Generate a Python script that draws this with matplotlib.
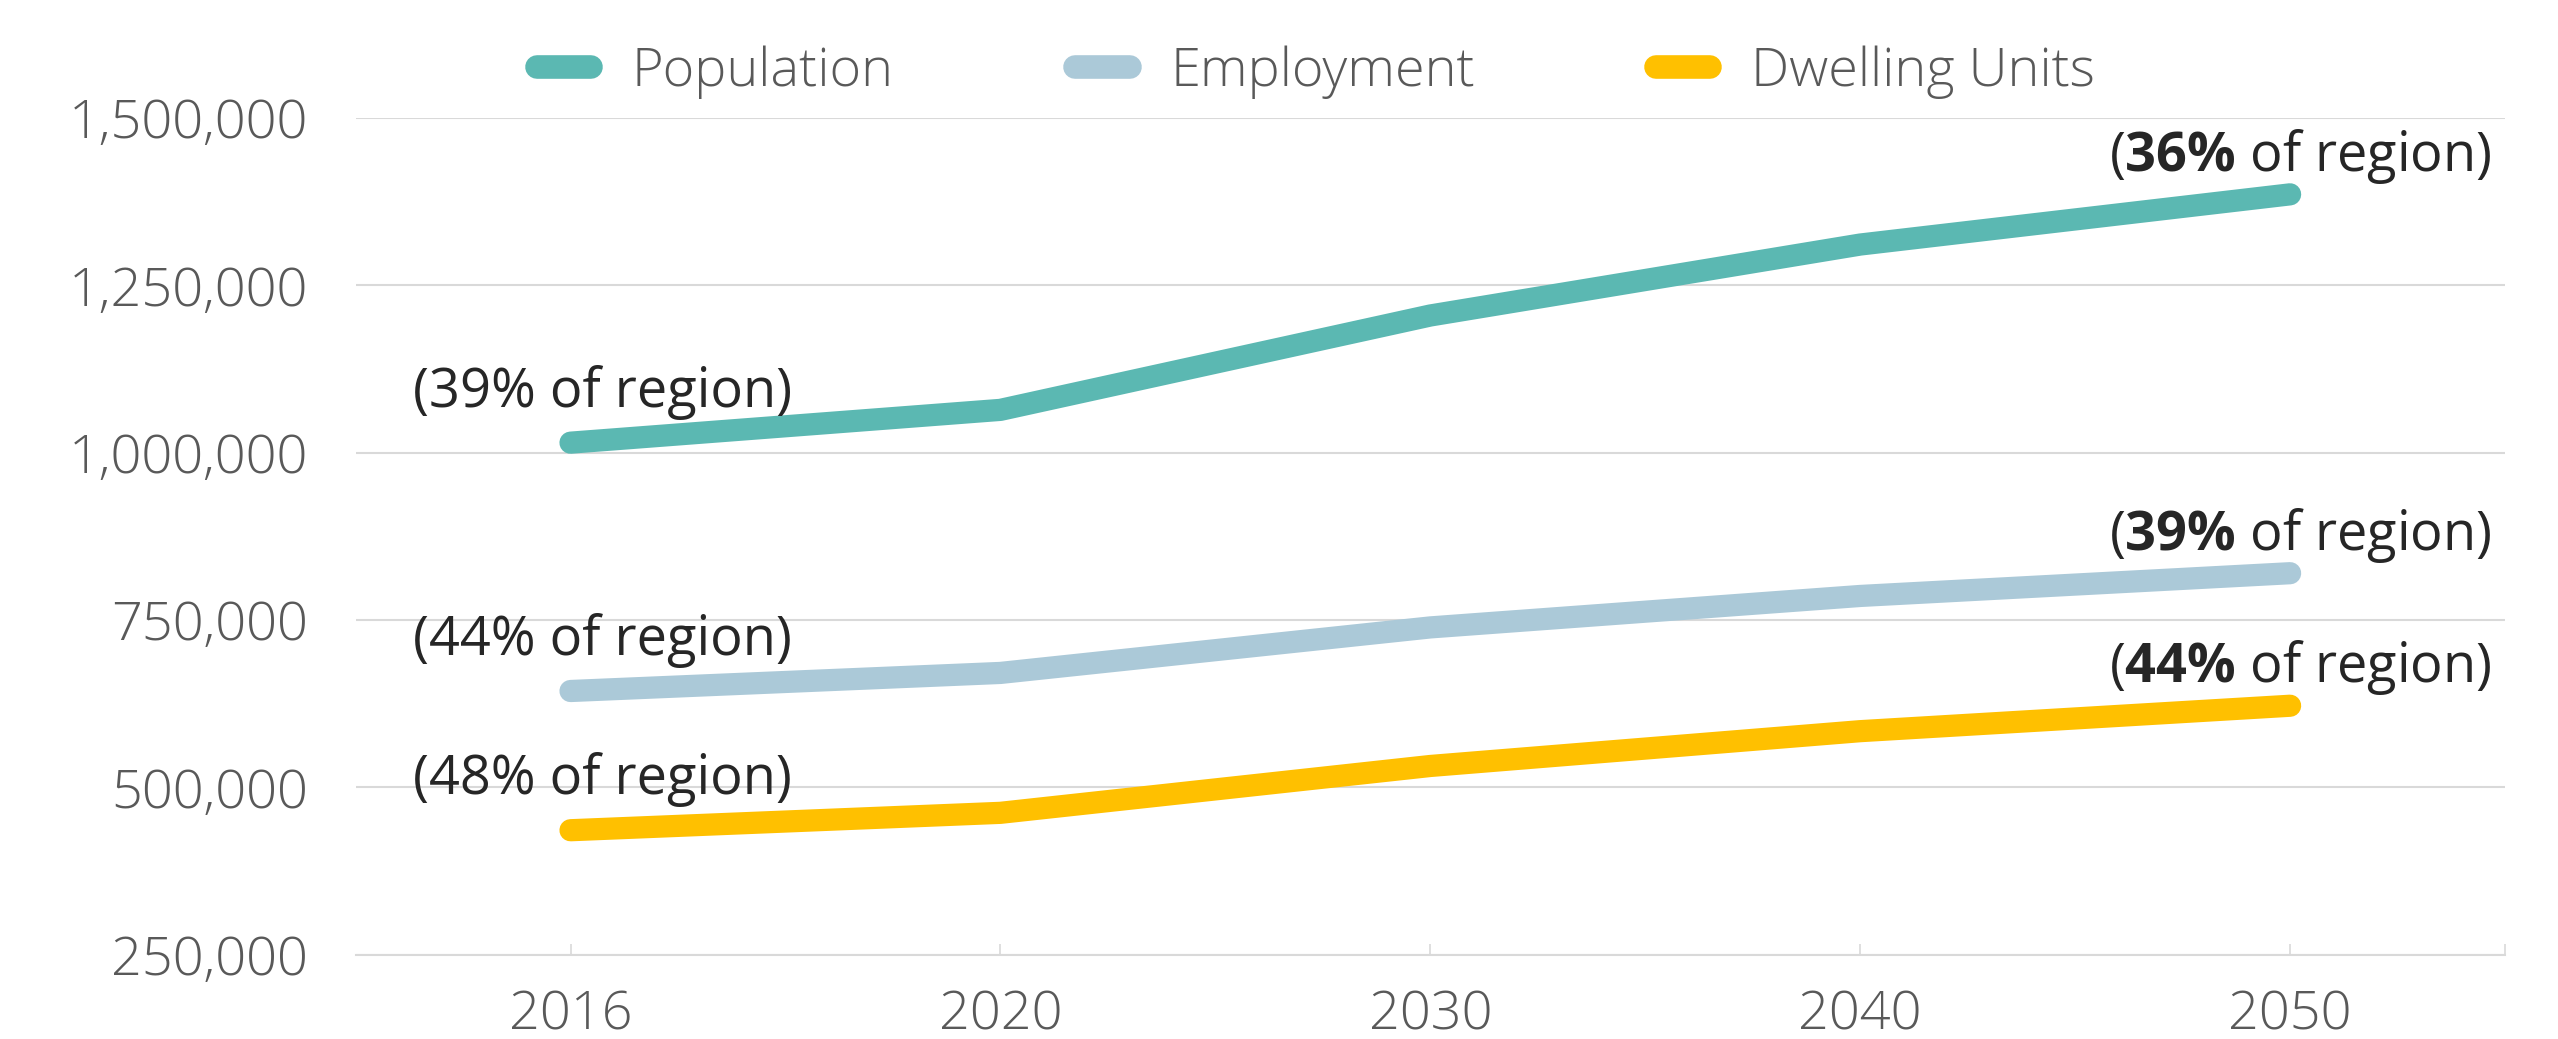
import matplotlib
matplotlib.use("Agg")
import matplotlib.pyplot as plt
from matplotlib.ticker import FuncFormatter, FixedLocator

# Daten
years = ["2016", "2020", "2030", "2040", "2050"]
population = [1015000, 1064000, 1205000, 1311000, 1386000]
employment = [644000, 671000, 739000, 786000, 820000]
dwelling_units = [436000, 462000, 532000, 584000, 622000]

series_names = ["Population", "Employment", "Dwelling Units"]
start_shares = ["39%", "44%", "48%"]
end_shares = ["36%", "39%", "44%"]

colors = ["#5BB8B2", "#ABC9D8", "#FFC000"]

plt.rcParams["font.family"] = ["Open Sans", "DejaVu Sans"]
plt.rcParams["mathtext.fontset"] = "custom"
plt.rcParams["mathtext.rm"] = "Open Sans"
plt.rcParams["mathtext.bf"] = "Open Sans:bold"

fig = plt.figure(figsize=(25.58, 10.39), dpi=100)
ax = fig.add_axes([0.139, 0.0811, 0.8403, 0.8053])

x = list(range(len(years)))
grid_col = "#D9D9D9"
fs = 39

lines = []
for vals, name, col in zip([population, employment, dwelling_units], series_names, colors):
    ln, = ax.plot(x, vals, color=col, lw=16, solid_capstyle="round",
                  solid_joinstyle="round", label=name, zorder=3)
    lines.append(ln)

# Beschriftungen am Anfang und Ende
for vals, s0, s1 in zip([population, employment, dwelling_units], start_shares, end_shares):
    ax.annotate(f"({s0} of region)", xy=(x[0], vals[0]), xytext=(23, 26),
                textcoords="offset points", ha="center", va="baseline",
                fontsize=fs, color="#262626", zorder=4)
    ax.annotate("($\\mathbf{" + s1.replace("%", "\\%") + "}$ of region)",
                xy=(x[-1], vals[-1]), xytext=(7, 17),
                textcoords="offset points", ha="center", va="baseline",
                fontsize=fs, color="#262626", zorder=4)

ax.set_xlim(-0.5, len(years) - 0.5)
ax.set_ylim(250000, 1500000)
ax.set_yticks([250000, 500000, 750000, 1000000, 1250000, 1500000])
ax.yaxis.set_major_formatter(FuncFormatter(lambda v, p: f"{int(v):,}"))
ax.set_xticks(x)
ax.set_xticklabels(years)
ax.xaxis.set_minor_locator(FixedLocator([len(years) - 0.5]))

ax.grid(axis="y", color=grid_col, lw=1.5)
ax.set_axisbelow(True)
for s in ["top", "right", "left"]:
    ax.spines[s].set_visible(False)
ax.spines["bottom"].set_color(grid_col)
ax.spines["bottom"].set_linewidth(1.5)

ax.tick_params(axis="y", length=0, pad=34, labelsize=fs, labelcolor="#595959")
ax.tick_params(axis="x", which="both", direction="in", length=8, width=1.2,
               color=grid_col, pad=25, labelsize=fs, labelcolor="#595959")
for lab in ax.get_xticklabels() + ax.get_yticklabels():
    lab.set_fontweight("light")

leg = fig.legend(handles=lines, loc="center", bbox_to_anchor=(0.5145, 0.9307),
                 ncol=3, frameon=False, fontsize=fs, handlelength=1.0,
                 handletextpad=0.75, columnspacing=3.35, labelcolor="#595959")
for h in leg.legend_handles:
    h.set_linewidth(17)
for t in leg.get_texts():
    t.set_fontweight("light")

fig.savefig("out.png", dpi=100, facecolor="white")
